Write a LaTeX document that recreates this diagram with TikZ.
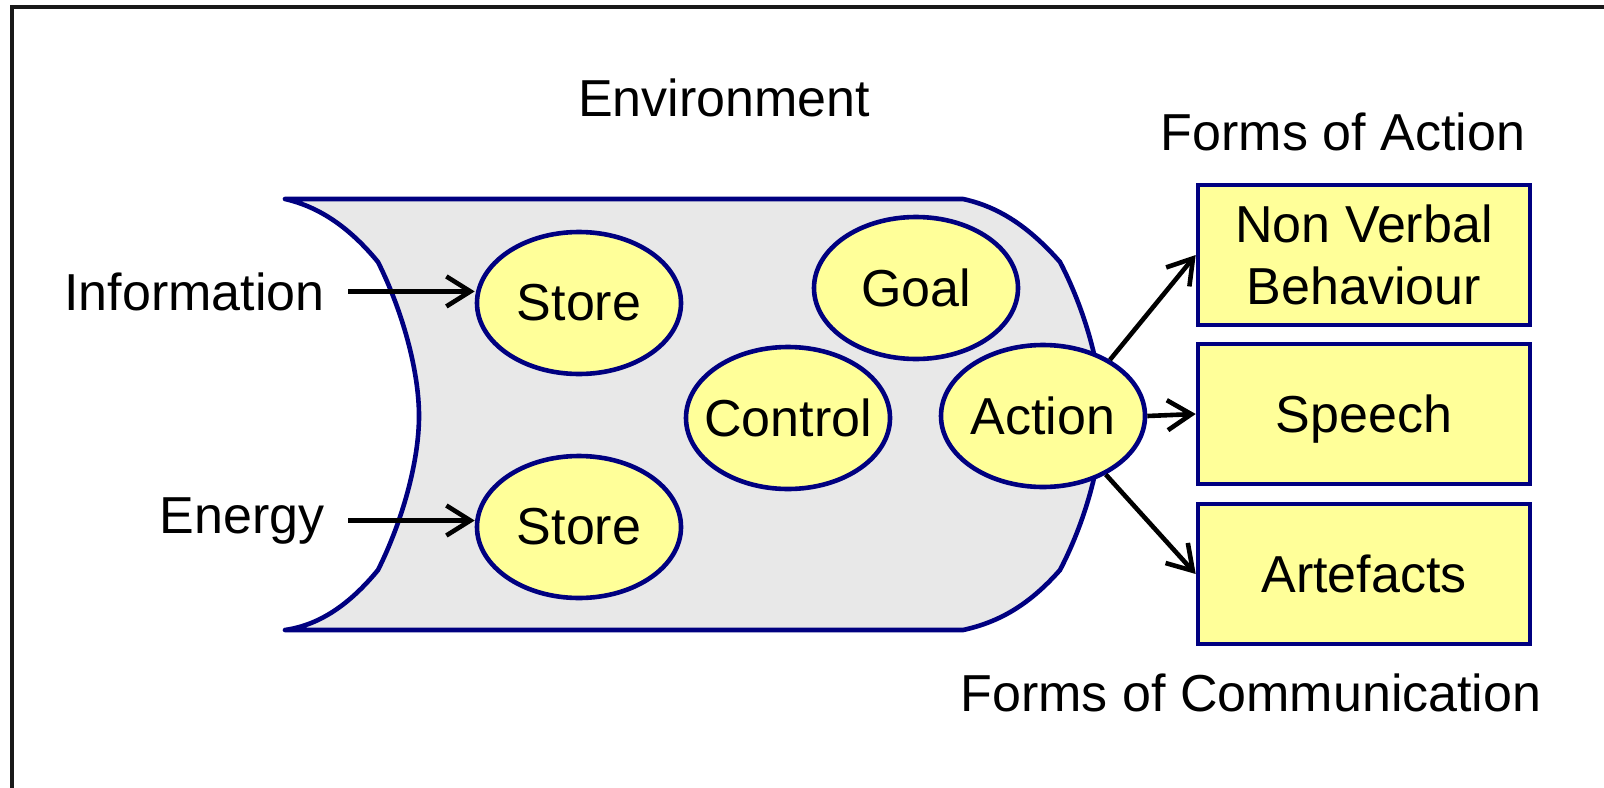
\documentclass[tikz,border=0pt]{standalone}
\usepackage{fontspec}
\setmainfont{Liberation Sans}
\usepackage{tikz}
\usetikzlibrary{arrows.meta,positioning,shapes.geometric}
\definecolor{framenavy}{HTML}{000080}
\definecolor{padyellow}{HTML}{FFFF99}
\definecolor{envgray}{HTML}{E8E8E8}

\begin{document}
\begin{tikzpicture}[
    x=0.5pt, y=-0.5pt,
    every node/.style={font=\fontsize{26pt}{31pt}\selectfont},
    unit/.style={ellipse, draw=framenavy, fill=padyellow, line width=2.3pt,
                 minimum width=102pt, minimum height=71pt,
                 inner xsep=-14pt, inner ysep=0pt},
    form/.style={rectangle, draw=framenavy, fill=padyellow, line width=2.3pt,
                 minimum width=166pt, minimum height=70pt,
                 align=center, inner sep=0pt},
    arr/.style={-{Straight Barb[length=12pt,width=15pt]}, line width=2.3pt, black},
    lbl/.style={anchor=base},
    input/.style={anchor=base east, inner xsep=11.5pt}
  ]
    \useasboundingbox (0,0) rectangle (1604,787);

    % Frame
    \draw[line width=2.3pt, black!90] (12,820) |- (1640,7);

    % Environment body
    \draw[line width=2.3pt, line join=round, draw=framenavy, fill=envgray]
      (285,199) .. controls (320,207) and (350,228) .. (378,262)
      .. controls (402,310) and (419,370) .. (419,416)
      .. controls (419,462) and (402,522) .. (378,570)
      .. controls (350,604) and (320,625) .. (285,630)
      -- (963,630)
      .. controls (1000,622) and (1030,604) .. (1060,570)
      .. controls (1085,522) and (1102,462) .. (1102,416)
      .. controls (1102,370) and (1085,310) .. (1060,262)
      .. controls (1030,228) and (1000,207) .. (963,199)
      -- cycle;

    % Titles
    \node[lbl] (env) at (724,116) {Environment};
    \node[lbl] (actforms) at (1343,150) {Forms of Action};
    \node[lbl] (commforms) at (1251,711) {Forms of Communication};

    % Inputs
    \node[input] (info) at (348,310) {Information};
    \node[input] (energy) at (348,533) {Energy};

    % Ellipses
    \node[unit] (store1) at (579,303) {Store};
    \node[unit] (store2) at (579,527) {Store};
    \node[unit] (goal) at (916,288) {Goal};
    \node[unit] (control) at (788,418) {Control};
    \node[unit] (action) at (1043,416) {Action};

    % Forms
    \node[form] (nonverbal) at (1364,255) {Non Verbal\\Behaviour};
    \node[form, text depth=0pt] (speech) at (1364,414) {Speech};
    \node[form] (artefacts) at (1364,574) {Artefacts};

    % Arrows
    \draw[arr] (info.east) -- (info.east -| store1.west);
    \draw[arr] (energy.east) -- (energy.east -| store2.west);
    \draw[arr] (action.40) -- (nonverbal.west);
    \draw[arr] (action.east) -- (speech.west);
    \draw[arr] (action.-43) -- (artefacts.west);
  \end{tikzpicture}
\end{document}
